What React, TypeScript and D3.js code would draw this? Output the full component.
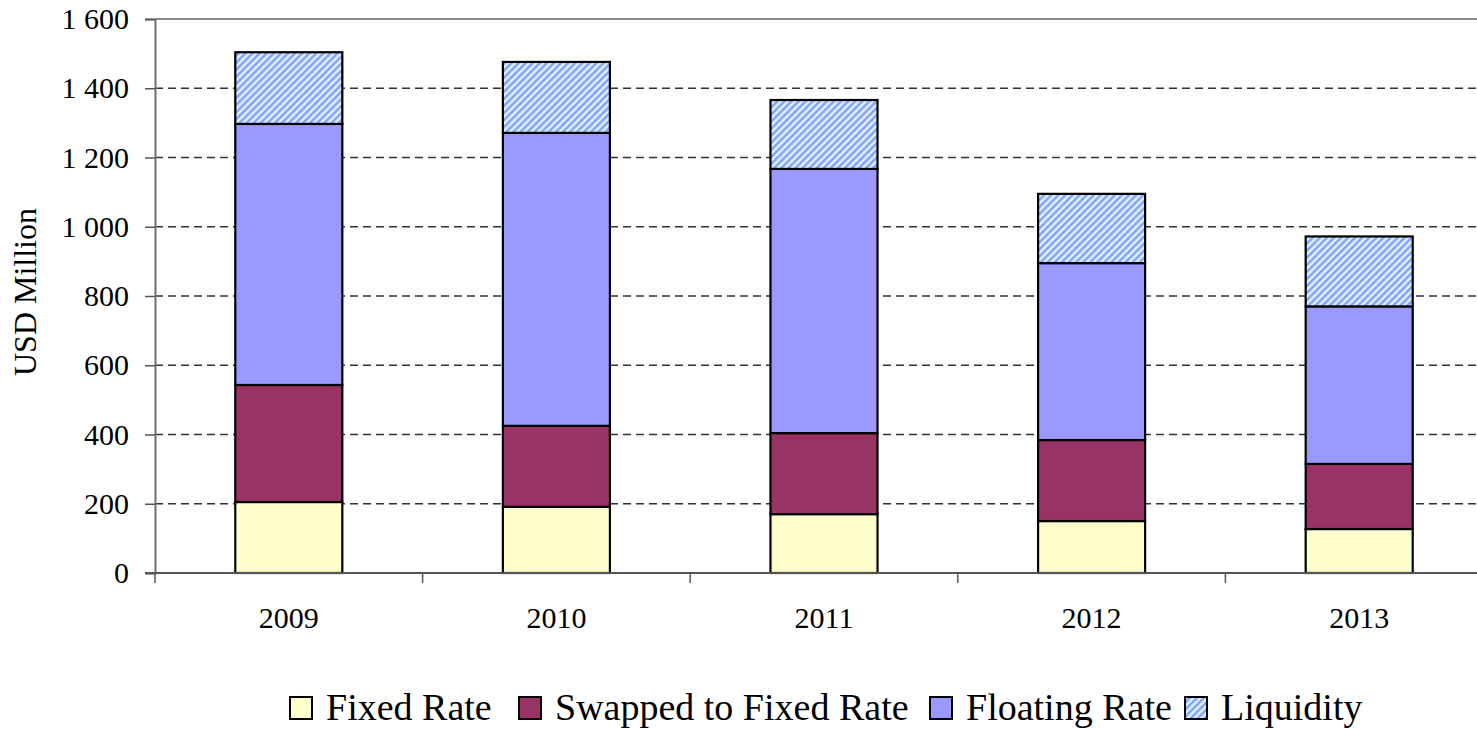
import React, { useEffect, useRef } from 'react';
import * as d3 from 'd3';

const years = ['2009', '2010', '2011', '2012', '2013'];
const fixedRate = [205, 191, 170, 150, 127];
const swappedRate = [338, 234, 234, 234, 188];
const floatingRate = [754, 846, 763, 511, 455];
const liquidity = [207, 205, 199, 200, 202];
const yTicks = [0, 200, 400, 600, 800, 1000, 1200, 1400, 1600];

const seriesNames = ['Fixed Rate', 'Swapped to Fixed Rate', 'Floating Rate', 'Liquidity'];
const seriesFills = ['#FFFFCC', '#993366', '#9999FF', 'url(#hatch)'];

const FONT = "'Liberation Serif', 'DejaVu Serif', serif";

// legend swatch x positions (layout)
const legendX = [290, 519, 930, 1185];

const App = () => {
  const svgRef = useRef<SVGSVGElement>(null);

  useEffect(() => {
    const svg = d3.select(svgRef.current);
    svg.selectAll('*').remove();
    const width = 1477;
    const height = 730;
    svg.attr('width', width).attr('height', height);

    // hatch pattern for liquidity
    const defs = svg.append('defs');
    const pat = defs.append('pattern')
      .attr('id', 'hatch')
      .attr('patternUnits', 'userSpaceOnUse')
      .attr('width', 5)
      .attr('height', 5)
      .attr('patternTransform', 'rotate(45)');
    pat.append('rect').attr('width', 5).attr('height', 5).attr('fill', '#CCFFFF');
    pat.append('rect').attr('width', 2.6).attr('height', 5).attr('fill', '#9999FF');

    const left = 155;
    const top = 19;
    const bottom = 573;

    const x = d3.scaleBand().domain(years).range([left, left + 5 * 267.6]).paddingInner(0).paddingOuter(0);
    const y = d3.scaleLinear().domain([0, 1600]).range([bottom, top]);

    // gridlines
    svg.append('g')
      .selectAll('line')
      .data(yTicks.filter(t => t > 0))
      .join('line')
      .attr('x1', left)
      .attr('x2', width)
      .attr('y1', d => y(d))
      .attr('y2', d => y(d))
      .attr('stroke', d => (d === 1600 ? '#8c8c8c' : '#333'))
      .attr('stroke-width', d => (d === 1600 ? 2 : 1.3))
      .attr('stroke-dasharray', d => (d === 1600 ? null : '8,5'));

    // stacked bars
    const table = years.map((yr, i) => ({
      year: yr,
      'Fixed Rate': fixedRate[i],
      'Swapped to Fixed Rate': swappedRate[i],
      'Floating Rate': floatingRate[i],
      Liquidity: liquidity[i],
    }));
    const stacked = d3.stack<any>().keys(seriesNames)(table);
    const barW = x.bandwidth() * 0.4;

    svg.append('g')
      .selectAll('g')
      .data(stacked)
      .join('g')
      .attr('fill', (_d, i) => seriesFills[i])
      .selectAll('rect')
      .data(d => d)
      .join('rect')
      .attr('x', d => (x(d.data.year) as number) + (x.bandwidth() - barW) / 2)
      .attr('width', barW)
      .attr('y', d => y(d[1]))
      .attr('height', d => y(d[0]) - y(d[1]))
      .attr('stroke', '#000')
      .attr('stroke-width', 2.2);

    // y axis
    const yAxis = svg.append('g')
      .attr('transform', `translate(${left},0)`)
      .call(d3.axisLeft(y).tickValues(yTicks).tickSize(10).tickPadding(16)
        .tickFormat(d => d3.format(',')(d as number).replace(',', ' ')));
    yAxis.select('.domain').attr('stroke', '#707070').attr('stroke-width', 2);
    yAxis.selectAll('.tick line').attr('stroke', '#555').attr('stroke-width', 1.5);
    yAxis.selectAll('.tick text')
      .style('font-family', FONT)
      .style('font-size', '30px')
      .attr('fill', '#000');

    // x axis
    const xAxis = svg.append('g')
      .attr('transform', `translate(0,${bottom})`)
      .call(d3.axisBottom(x).tickSize(0).tickPadding(34));
    xAxis.select('.domain').attr('stroke', '#555').attr('stroke-width', 2)
      .attr('d', `M${left - 10},0H${width}`);
    xAxis.selectAll('.tick text')
      .style('font-family', FONT)
      .style('font-size', '30px')
      .attr('fill', '#000');
    // category separator ticks
    svg.append('g')
      .selectAll('line')
      .data(years)
      .join('line')
      .attr('x1', d => x(d) as number)
      .attr('x2', d => x(d) as number)
      .attr('y1', bottom)
      .attr('y2', bottom + 10)
      .attr('stroke', '#555')
      .attr('stroke-width', 1.5);

    // y label
    svg.append('text')
      .attr('transform', `translate(36,292) rotate(-90)`)
      .attr('text-anchor', 'middle')
      .style('font-family', FONT)
      .style('font-size', '32px')
      .attr('fill', '#000')
      .text('USD Million');

    // legend
    const legend = svg.append('g').attr('transform', 'translate(0,708)');
    seriesNames.forEach((name, i) => {
      const g = legend.append('g').attr('transform', `translate(${legendX[i]},0)`);
      g.append('rect')
        .attr('x', 0)
        .attr('y', -11)
        .attr('width', 22)
        .attr('height', 22)
        .attr('fill', seriesFills[i])
        .attr('stroke', '#000')
        .attr('stroke-width', 2);
      g.append('text')
        .attr('x', 36)
        .attr('y', 12)
        .style('font-family', FONT)
        .style('font-size', '38px')
        .attr('fill', '#000')
        .text(name);
    });
  }, []);

  return <svg ref={svgRef} style={{ display: 'block', position: 'absolute', left: 0, top: 0 }}></svg>;
};

export default App;
